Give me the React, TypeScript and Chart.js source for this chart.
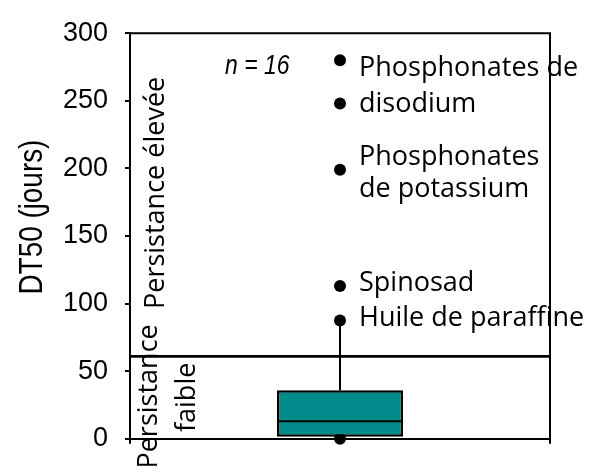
import React, { useEffect, useRef } from 'react';
import { Chart, registerables } from 'chart.js';

Chart.register(...registerables);

// ---- data ----
const categories = ['Substances'];
const boxRange = [1.5, 36]; // Q1, Q3
const medianValue = 13;
const whiskerLow = 0;
const whiskerHigh = 87.5;
const outlierValues = [280, 248, 199, 113, 87.5, 0];
const thresholdValue = 61;
const yMin = 0;
const yMax = 300;
const yStep = 50;
const sampleLabel = 'n = 16';
const axisTitle = 'DT50 (jours)';
const labelTexts = ['Phosphonates de', 'disodium', 'Phosphonates', 'de potassium', 'Spinosad', 'Huile de paraffine'];
const labelBaselines = [268.7, 241.7, 202.6, 179.1, 109.5, 83.2];
const zoneHigh = 'Persistance élevée';
const zoneLow1 = 'Persistance';
const zoneLow2 = 'faible';

const ARIAL = "'Liberation Sans', Arial, sans-serif";
const LABEL = "'Open Sans', sans-serif";
const NARROW_SCALE = 0.82;

const annotPlugin = {
  id: 'annot',
  afterDatasetsDraw(chart: any) {
    const { ctx, chartArea, scales } = chart;
    const y = scales.y;
    const bar = chart.getDatasetMeta(0).data[0];
    ctx.save();
    ctx.strokeStyle = '#000';
    ctx.lineCap = 'butt';
    // median
    const half = bar.width / 2;
    const my = y.getPixelForValue(medianValue);
    ctx.lineWidth = 2;
    ctx.beginPath();
    ctx.moveTo(bar.x - half + 1, my);
    ctx.lineTo(bar.x + half - 1, my);
    ctx.stroke();
    // threshold
    const ty = y.getPixelForValue(thresholdValue);
    ctx.lineWidth = 2.6;
    ctx.beginPath();
    ctx.moveTo(chartArea.left, ty);
    ctx.lineTo(chartArea.right, ty);
    ctx.stroke();
    // top / right frame
    ctx.lineWidth = 2;
    ctx.beginPath();
    ctx.moveTo(chartArea.left - 1, chartArea.top);
    ctx.lineTo(chartArea.right, chartArea.top);
    ctx.lineTo(chartArea.right, chartArea.bottom);
    ctx.stroke();

    ctx.fillStyle = '#000';
    // outlier labels
    ctx.font = `27px ${LABEL}`;
    ctx.textAlign = 'left';
    ctx.textBaseline = 'alphabetic';
    labelTexts.forEach((t, i) => {
      ctx.fillText(t, bar.x + 19, y.getPixelForValue(labelBaselines[i]));
    });
    // n = 16 (narrow italic)
    ctx.save();
    ctx.translate(chartArea.left + 95, y.getPixelForValue(270));
    ctx.scale(NARROW_SCALE, 1);
    ctx.font = `italic 28px ${ARIAL}`;
    ctx.fillText(sampleLabel, 0, 0);
    ctx.restore();

    // vertical texts
    const vtext = (t: string, x: number, v: number, font: string) => {
      ctx.save();
      ctx.translate(x, y.getPixelForValue(v));
      ctx.rotate(-Math.PI / 2);
      ctx.font = font;
      ctx.textAlign = 'left';
      ctx.textBaseline = 'alphabetic';
      ctx.fillText(t, 0, 0);
      ctx.restore();
    };
    vtext(zoneHigh, chartArea.left + 34, 96, `27px ${LABEL}`);
    vtext(zoneLow1, chartArea.left + 27, -22, `27px ${LABEL}`);
    vtext(zoneLow2, chartArea.left + 65, 5, `27px ${LABEL}`);

    // axis title (narrow)
    ctx.save();
    ctx.translate(33, y.getPixelForValue(164));
    ctx.rotate(-Math.PI / 2);
    ctx.scale(NARROW_SCALE, 1);
    ctx.font = `34px ${ARIAL}`;
    ctx.textAlign = 'center';
    ctx.textBaseline = 'middle';
    ctx.fillText(axisTitle, 0, 0);
    ctx.restore();

    ctx.restore();
  },
};

export default function App() {
  const ref = useRef<HTMLCanvasElement>(null);
  useEffect(() => {
    document.body.style.margin = '0';
    const chart = new Chart(ref.current!, {
      type: 'bar',
      data: {
        labels: categories,
        datasets: [
          {
            type: 'bar',
            order: 0,
            data: [boxRange as any],
            backgroundColor: '#008B8B',
            borderColor: '#000',
            borderWidth: 2.5,
            borderSkipped: false,
            barPercentage: 0.3,
            categoryPercentage: 1,
          } as any,
          {
            type: 'line',
            order: 1,
            data: [
              { x: categories[0], y: boxRange[1] },
              { x: categories[0], y: whiskerHigh },
            ],
            borderColor: '#000',
            borderWidth: 2,
            pointRadius: 0,
            showLine: true,
            clip: false,
          } as any,
          {
            type: 'line',
            order: 2,
            data: [
              { x: categories[0], y: whiskerLow },
              { x: categories[0], y: boxRange[0] },
            ],
            borderColor: '#000',
            borderWidth: 2,
            pointRadius: 0,
            showLine: true,
            clip: false,
          } as any,
          {
            type: 'line',
            order: 3,
            data: outlierValues.map((v) => ({ x: categories[0], y: v })),
            showLine: false,
            pointRadius: 6,
            pointBackgroundColor: '#000',
            pointBorderColor: '#000',
            pointBorderWidth: 0,
            clip: false,
          } as any,
        ],
      },
      options: {
        animation: false,
        responsive: true,
        maintainAspectRatio: false,
        layout: { padding: { left: 0, right: 42, top: 20, bottom: 30 } },
        plugins: { legend: { display: false }, tooltip: { enabled: false } },
        scales: {
          x: {
            type: 'category',
            offset: true,
            ticks: { display: false },
            grid: {
              display: true,
              offset: true,
              drawOnChartArea: false,
              drawTicks: true,
              tickLength: 5,
              color: '#000',
              lineWidth: 2,
            },
            border: { display: true, color: '#000', width: 2 },
            afterFit: (s: any) => {
              s.height = 0;
            },
          },
          y: {
            min: yMin,
            max: yMax,
            ticks: {
              stepSize: yStep,
              color: '#000',
              padding: 17,
              font: { family: ARIAL, size: 27 },
            },
            grid: {
              drawOnChartArea: false,
              drawTicks: true,
              tickLength: 5,
              color: '#000',
              lineWidth: 2,
            },
            border: { display: true, color: '#000', width: 2 },
            afterFit: (s: any) => {
              s.width = 130;
            },
          },
        },
      } as any,
      plugins: [annotPlugin],
    });
    return () => chart.destroy();
  }, []);
  return (
    <div style={{ width: 592, height: 472, position: 'relative' }}>
      <canvas ref={ref} />
    </div>
  );
}
